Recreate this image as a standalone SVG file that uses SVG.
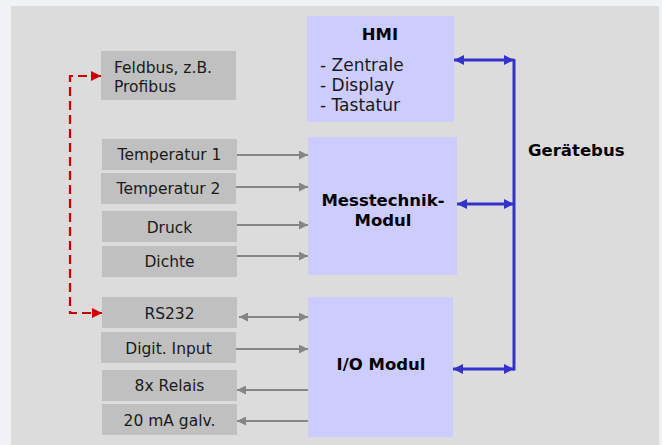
<svg xmlns="http://www.w3.org/2000/svg" width="662" height="445" viewBox="0 0 662 445">
<defs>
<style>
.lbox{fill:#c0c0c0}
.bbox{fill:#ccccff}
.lt{font-family:"DejaVu Sans",Verdana,sans-serif;font-size:15.5px;fill:#1a1a1a}
.ct{text-anchor:middle}
.bt{font-family:"DejaVu Sans",Verdana,sans-serif;font-size:16.5px;font-weight:bold;fill:#000}
.ht{font-family:"DejaVu Sans",Verdana,sans-serif;font-size:17px;fill:#1a1a1a}
.ga{stroke:#858585;stroke-width:2.2;fill:none}
.bl{stroke:#3333cc;stroke-width:3;fill:none}
.rd{stroke:#cc0000;stroke-width:2.2;fill:none;stroke-dasharray:9,5}
</style>
<marker id="ag" markerUnits="userSpaceOnUse" markerWidth="10" markerHeight="9" refX="9" refY="4.5" orient="auto-start-reverse"><path d="M0,0 L9,4.5 L0,9 z" fill="#858585"/></marker>
<marker id="ab" markerUnits="userSpaceOnUse" markerWidth="11" markerHeight="10" refX="10" refY="5" orient="auto-start-reverse"><path d="M0,0 L10,5 L0,10 z" fill="#3333cc"/></marker>
<marker id="ar" markerUnits="userSpaceOnUse" markerWidth="11" markerHeight="10" refX="10" refY="5" orient="auto-start-reverse"><path d="M0,0 L10,5 L0,10 z" fill="#cc0000"/></marker>
</defs>
<rect x="0" y="0" width="662" height="445" fill="#f0f2f4"/>
<rect x="11" y="6" width="648" height="439" fill="#dcdcdc"/>

<g id="hmi"><rect class="bbox" x="307" y="16" width="147" height="106"/>
<text class="bt ct" x="380" y="40">HMI</text>
<text class="ht" x="320" y="71">- Zentrale</text>
<text class="ht" x="320" y="91">- Display</text>
<text class="ht" x="320" y="111">- Tastatur</text></g>
<g id="messtechnik"><rect class="bbox" x="308" y="137" width="149" height="138"/>
<text class="bt ct" x="383" y="206">Messtechnik-</text>
<text class="bt ct" x="383" y="226">Modul</text></g>
<g id="io"><rect class="bbox" x="308" y="297" width="145" height="140"/>
<text class="bt ct" x="381" y="370">I/O Modul</text></g>

<g id="feldbus"><rect class="lbox" x="101" y="51" width="135" height="49"/>
<text class="lt" x="114" y="73">Feldbus, z.B.</text>
<text class="lt" x="114" y="92">Profibus</text></g>
<g id="temp1"><rect class="lbox" x="102" y="139" width="135" height="31"/><text class="lt ct" x="169.5" y="160">Temperatur 1</text></g>
<g id="temp2"><rect class="lbox" x="101" y="173" width="135" height="31"/><text class="lt ct" x="168.5" y="194">Temperatur 2</text></g>
<g id="druck"><rect class="lbox" x="102" y="211" width="135" height="31"/><text class="lt ct" x="169.5" y="233">Druck</text></g>
<g id="dichte"><rect class="lbox" x="102" y="246" width="135" height="31"/><text class="lt ct" x="169.5" y="267">Dichte</text></g>
<g id="rs232"><rect class="lbox" x="102" y="297" width="135" height="31"/><text class="lt ct" x="169.5" y="319">RS232</text></g>
<g id="digit"><rect class="lbox" x="101" y="332" width="135" height="31"/><text class="lt ct" x="168.5" y="354">Digit. Input</text></g>
<g id="relais"><rect class="lbox" x="102" y="370" width="135" height="31"/><text class="lt ct" x="169.5" y="391">8x Relais</text></g>
<g id="ma"><rect class="lbox" x="102" y="404" width="135" height="31"/><text class="lt ct" x="169.5" y="426">20 mA galv.</text></g>

<g id="bus"><text class="bt" x="528" y="156">Gerätebus</text></g>

<g id="connectors">
<line class="ga" x1="237" y1="155" x2="308" y2="155" marker-end="url(#ag)"/>
<line class="ga" x1="236" y1="187" x2="308" y2="187" marker-end="url(#ag)"/>
<line class="ga" x1="237" y1="225" x2="308" y2="225" marker-end="url(#ag)"/>
<line class="ga" x1="237" y1="256" x2="308" y2="256" marker-end="url(#ag)"/>
<line class="ga" x1="239" y1="317" x2="308" y2="317" marker-start="url(#ag)" marker-end="url(#ag)"/>
<line class="ga" x1="236" y1="349" x2="308" y2="349" marker-end="url(#ag)"/>
<line class="ga" x1="308" y1="390" x2="237" y2="390" marker-end="url(#ag)"/>
<line class="ga" x1="308" y1="421" x2="237" y2="421" marker-end="url(#ag)"/>
<line class="bl" x1="514" y1="59" x2="514" y2="370.5"/>
<line class="bl" x1="454" y1="60" x2="514" y2="60" marker-start="url(#ab)" marker-end="url(#ab)"/>
<line class="bl" x1="457" y1="204" x2="514" y2="204" marker-start="url(#ab)" marker-end="url(#ab)"/>
<line class="bl" x1="453" y1="369" x2="514" y2="369" marker-start="url(#ab)" marker-end="url(#ab)"/>
<path class="rd" d="M101,76 H70 V313 H102" marker-start="url(#ar)" marker-end="url(#ar)"/>
</g>
</svg>
